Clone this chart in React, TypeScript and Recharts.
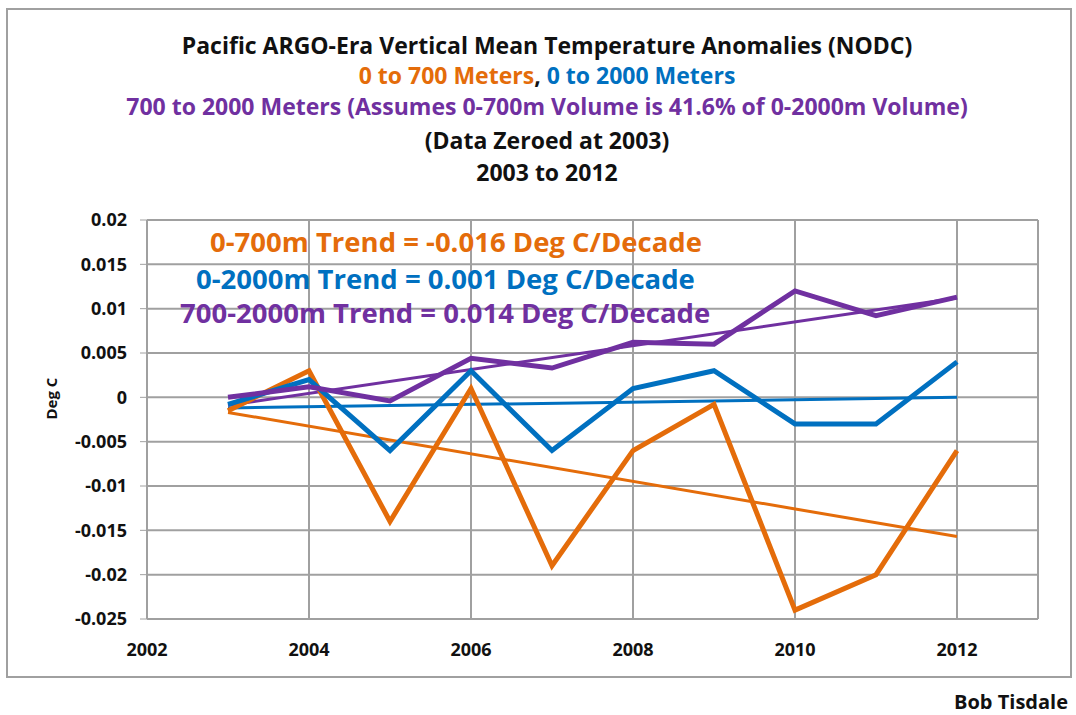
import { LineChart, Line, XAxis, YAxis, CartesianGrid, ReferenceLine } from 'recharts';

const years = [2003, 2004, 2005, 2006, 2007, 2008, 2009, 2010, 2011, 2012];
const upper700 = [-0.0015, 0.003, -0.014, 0.001, -0.019, -0.006, -0.0008, -0.024, -0.02, -0.006];
const full2000 = [-0.0008, 0.002, -0.006, 0.003, -0.006, 0.001, 0.003, -0.003, -0.003, 0.004];
const deep700to2000 = [0, 0.0012, -0.0004, 0.0044, 0.0033, 0.0062, 0.006, 0.012, 0.0092, 0.0113];
// trend lines: only the end points, joined across the gap
const trend700 = [-0.0017, -0.0157];
const trend2000 = [-0.0012, 0.0];
const trend700to2000 = [-0.0009, 0.0112];

const xTicks = [2002, 2004, 2006, 2008, 2010, 2012];
const yTicks = [0.02, 0.015, 0.01, 0.005, 0, -0.005, -0.01, -0.015, -0.02, -0.025];

const ORANGE = '#E46C0A';
const BLUE = '#0070C0';
const PURPLE = '#7030A0';

const data = years.map((year, i) => ({
  year,
  upper700: upper700[i],
  full2000: full2000[i],
  deep: deep700to2000[i],
  t700: i === 0 ? trend700[0] : i === years.length - 1 ? trend700[1] : null,
  t2000: i === 0 ? trend2000[0] : i === years.length - 1 ? trend2000[1] : null,
  tDeep: i === 0 ? trend700to2000[0] : i === years.length - 1 ? trend700to2000[1] : null,
}));

const font = '"Open Sans", Lato, sans-serif';

const titleLine = (center: number, content: React.ReactNode, color = '#111') => (
  <div style={{ position: 'absolute', left: 0, width: 1094, top: center - 15, lineHeight: '30px', textAlign: 'center', fontSize: 23, fontWeight: 700, color, fontFamily: font, whiteSpace: 'nowrap' }}>
    {content}
  </div>
);

const trendText = (left: number, center: number, text: string, color: string) => (
  <div style={{ position: 'absolute', left, top: center - 18, lineHeight: '36px', fontSize: 27.5, fontWeight: 700, color, fontFamily: font, whiteSpace: 'nowrap' }}>
    {text}
  </div>
);

export default function App() {
  return (
    <div style={{ position: 'absolute', left: 0, top: 0, width: 1076, height: 715, background: '#fff', fontFamily: font }}>
      <div style={{ position: 'absolute', left: 6, top: 8, width: 1066, height: 670, border: '2px solid #a0a0a0', boxSizing: 'border-box' }} />
      <LineChart
        width={1076}
        height={715}
        data={data}
        margin={{ top: 220, right: 38, bottom: 66, left: 87 }}
      >
        <CartesianGrid stroke="#a0a0a0" strokeWidth={2} />
        <XAxis
          dataKey="year"
          type="number"
          domain={[2002, 2013]}
          ticks={xTicks}
          height={30}
          stroke="#a0a0a0"
          tickLine={false}
          tick={{ fill: '#111', fontSize: 18, fontWeight: 700, fontFamily: font }}
          tickMargin={18}
        />
        <YAxis
          domain={[-0.025, 0.02]}
          ticks={yTicks}
          width={60}
          stroke="#a0a0a0"
          tickSize={7}
          tickMargin={13}
          tick={{ fill: '#111', fontSize: 18, fontWeight: 700, fontFamily: font }}
          tickFormatter={(v: number) => String(v)}
          label={{ value: 'Deg C', angle: -90, position: 'insideLeft', offset: -35, style: { fill: '#111', fontSize: 15, fontWeight: 700, fontFamily: font } }}
        />
        <ReferenceLine x={2013} stroke="#a0a0a0" strokeWidth={2} />
        <Line dataKey="t700" stroke={ORANGE} strokeWidth={3} dot={false} connectNulls isAnimationActive={false} />
        <Line dataKey="t2000" stroke={BLUE} strokeWidth={3} dot={false} connectNulls isAnimationActive={false} />
        <Line dataKey="tDeep" stroke={PURPLE} strokeWidth={3} dot={false} connectNulls isAnimationActive={false} />
        <Line dataKey="upper700" stroke={ORANGE} strokeWidth={5} dot={false} isAnimationActive={false} />
        <Line dataKey="full2000" stroke={BLUE} strokeWidth={5} dot={false} isAnimationActive={false} />
        <Line dataKey="deep" stroke={PURPLE} strokeWidth={5} dot={false} isAnimationActive={false} />
      </LineChart>
      {titleLine(45, 'Pacific ARGO-Era Vertical Mean Temperature Anomalies (NODC)')}
      {titleLine(75, <><span style={{ color: ORANGE }}>0 to 700 Meters</span>, <span style={{ color: BLUE }}>0 to 2000 Meters</span></>)}
      {titleLine(106, '700 to 2000 Meters (Assumes 0-700m Volume is 41.6% of 0-2000m Volume)', PURPLE)}
      {titleLine(140, '(Data Zeroed at 2003)')}
      {titleLine(172, '2003 to 2012')}
      {trendText(210, 242, '0-700m Trend = -0.016 Deg C/Decade', ORANGE)}
      {trendText(196, 279, '0-2000m Trend = 0.001 Deg C/Decade', BLUE)}
      {trendText(180, 313, '700-2000m Trend = 0.014 Deg C/Decade', PURPLE)}
      <div style={{ position: 'absolute', right: 8, top: 690, lineHeight: '24px', fontSize: 20, fontWeight: 700, color: '#111', fontFamily: font }}>
        Bob Tisdale
      </div>
    </div>
  );
}
